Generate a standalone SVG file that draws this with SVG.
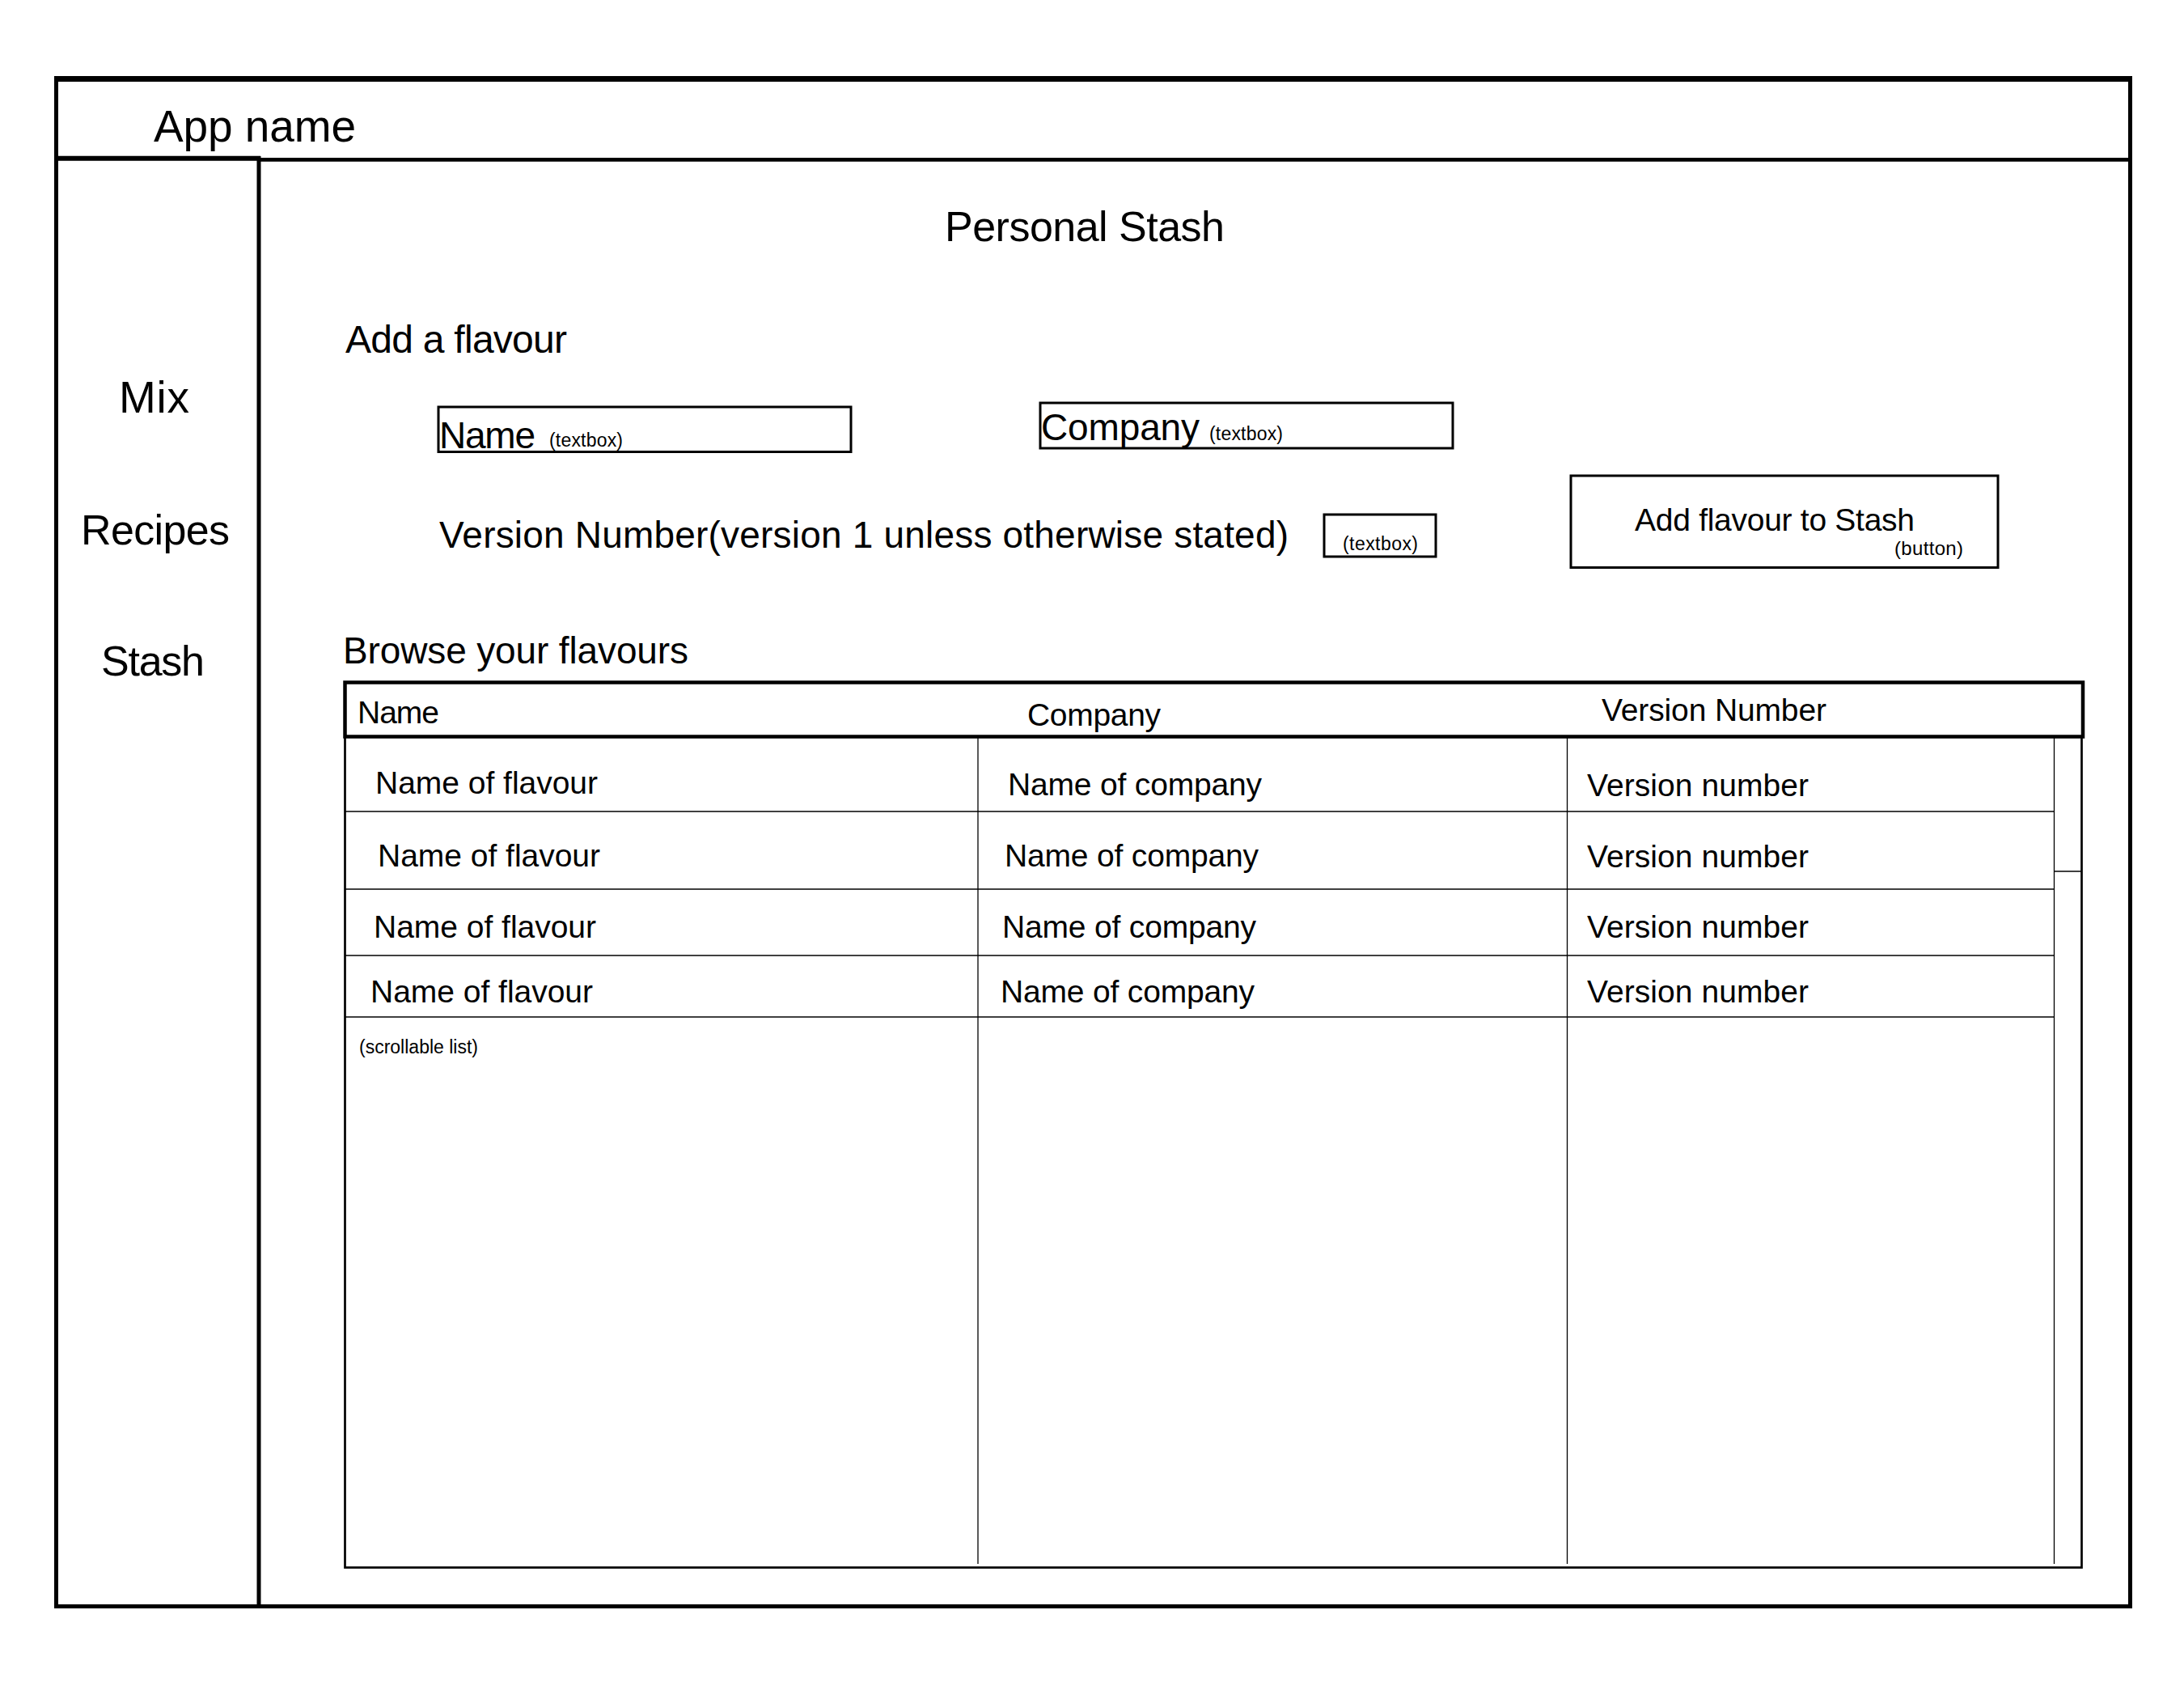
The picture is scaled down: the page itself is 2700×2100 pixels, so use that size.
<svg xmlns="http://www.w3.org/2000/svg" width="2700" height="2100" viewBox="0 0 2700 2100">
<style>
text{font-family:"Liberation Sans",Arial,sans-serif;fill:#000}
.t55{font-size:55px}.t52{font-size:52px}.t48{font-size:48px}.t46{font-size:46px}.t39{font-size:39px}.t24{font-size:24px}.t23{font-size:23px}
.box{fill:none;stroke:#000;stroke-width:3}
.ln{stroke:#000;fill:none}
.thin{stroke:#000;stroke-width:1.3;fill:none}
</style>
<rect width="2700" height="2100" fill="#fff"/>
<g id="frame">
<line class="ln" x1="67" y1="97.5" x2="2636" y2="97.5" stroke-width="7"/>
<line class="ln" x1="69.5" y1="94" x2="69.5" y2="1988" stroke-width="5"/>
<line class="ln" x1="2633.5" y1="94" x2="2633.5" y2="1988" stroke-width="5"/>
<line class="ln" x1="67" y1="1985.5" x2="2636" y2="1985.5" stroke-width="5"/>
<line class="ln" x1="67" y1="195.7" x2="322" y2="195.7" stroke-width="6"/>
<line class="ln" x1="318" y1="197.3" x2="2636" y2="197.3" stroke-width="4.7"/>
<line class="ln" x1="320" y1="193" x2="320" y2="1988" stroke-width="5"/>
</g>
<g id="header">
<text class="t55" x="190" y="175" textLength="250">App name</text>
</g>
<g id="sidebar">
<text class="t55" x="147" y="510" textLength="87">Mix</text>
<text class="t52" x="100" y="673" textLength="184">Recipes</text>
<text class="t52" x="125" y="835" textLength="128">Stash</text>
</g>
<g id="title">
<text class="t52" x="1168" y="298" textLength="346">Personal Stash</text>
</g>
<g id="add-flavour">
<text class="t48" x="427" y="436" textLength="274">Add a flavour</text>
</g>
<g id="name-textbox">
<rect class="box" x="542" y="503" width="510" height="55.5"/>
<text class="t46" x="543" y="554" textLength="119">Name</text>
<text class="t23" x="679" y="552" textLength="91">(textbox)</text>
</g>
<g id="company-textbox">
<rect class="box" x="1286" y="498" width="510" height="56"/>
<text class="t46" x="1287" y="544" textLength="196">Company</text>
<text class="t23" x="1495" y="544" textLength="91">(textbox)</text>
</g>
<g id="version-field">
<text class="t46" x="543" y="677" textLength="1050">Version Number(version 1 unless otherwise stated)</text>
<rect class="box" x="1637" y="636" width="138" height="52"/>
<text class="t23" x="1660" y="680" textLength="93">(textbox)</text>
</g>
<g id="add-button">
<rect class="box" x="1942" y="588" width="528" height="113.5"/>
<text class="t39" x="2021" y="656" textLength="346">Add flavour to Stash</text>
<text class="t24" x="2342" y="686" textLength="85">(button)</text>
</g>
<g id="browse">
<text class="t46" x="424" y="820" textLength="427">Browse your flavours</text>
</g>
<g id="table">
<rect x="426.5" y="843.5" width="2148.5" height="67" fill="none" stroke="#000" stroke-width="4.5"/>
<rect x="426.5" y="910.5" width="2147" height="1027" fill="none" stroke="#000" stroke-width="2.7"/>
<text class="t39" x="442" y="894" textLength="101">Name</text>
<text class="t39" x="1270" y="897" textLength="165">Company</text>
<text class="t39" x="1980" y="891" textLength="278">Version Number</text>
<text class="t39" x="464" y="981" textLength="275">Name of flavour</text>
<text class="t39" x="467" y="1071" textLength="275">Name of flavour</text>
<text class="t39" x="462" y="1159" textLength="275">Name of flavour</text>
<text class="t39" x="458" y="1239" textLength="275">Name of flavour</text>
<text class="t39" x="1246" y="983" textLength="314">Name of company</text>
<text class="t39" x="1242" y="1071" textLength="314">Name of company</text>
<text class="t39" x="1239" y="1159" textLength="314">Name of company</text>
<text class="t39" x="1237" y="1239" textLength="314">Name of company</text>
<text class="t39" x="1962" y="984" textLength="274">Version number</text>
<text class="t39" x="1962" y="1072" textLength="274">Version number</text>
<text class="t39" x="1962" y="1159" textLength="274">Version number</text>
<text class="t39" x="1962" y="1239" textLength="274">Version number</text>
<text class="t23" x="444" y="1302" textLength="147">(scrollable list)</text>
</g>
<g id="connectors">
<line class="thin" x1="1209" y1="911" x2="1209" y2="1933"/>
<line class="thin" x1="1937.5" y1="911" x2="1937.5" y2="1933"/>
<line class="thin" x1="2539.5" y1="911" x2="2539.5" y2="1933"/>
<line class="thin" x1="427" y1="1003" x2="2539.5" y2="1003"/>
<line class="thin" x1="427" y1="1099" x2="2539.5" y2="1099"/>
<line class="thin" x1="427" y1="1181" x2="2539.5" y2="1181"/>
<line class="thin" x1="427" y1="1257" x2="2539.5" y2="1257"/>
<line class="thin" x1="2539.5" y1="1077" x2="2573" y2="1077"/>
</g>
</svg>
